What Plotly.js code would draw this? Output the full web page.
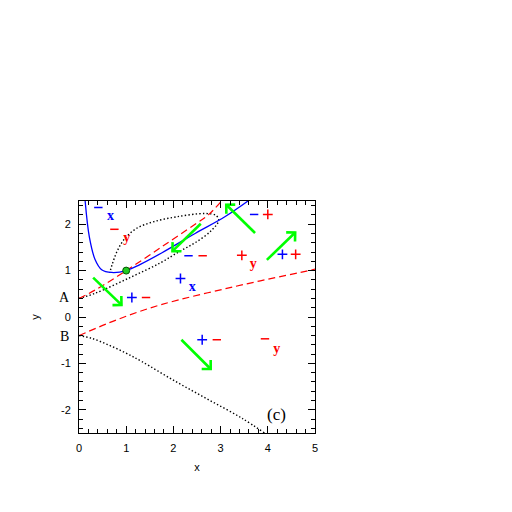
<!DOCTYPE html>
<html>
<head>
<meta charset="utf-8">
<script src="https://cdn.plot.ly/plotly-3.0.1.min.js"></script>
<style>html,body{margin:0;padding:0;background:#fff;}#plot{width:512px;height:512px;}</style>
</head>
<body>
<div id="plot"></div>
<script>
// ---- data ----
const blueX = [0.13, 0.22, 0.34, 0.48, 0.69, 1.0, 1.29, 1.75, 2.46, 3.09, 3.58];
const blueY = [2.5, 1.72, 1.24, 1.02, 0.96, 1.0, 1.13, 1.38, 1.8, 2.16, 2.5];

const redAX = [0, 0.34, 1.0, 1.75, 2.46, 2.74, 3.02];
const redAY = [0.4, 0.58, 1.0, 1.51, 2.0, 2.2, 2.5];

const redBX = [0, 0.8, 1.72, 3.27, 4.82, 5.0];
const redBY = [-0.4, -0.06, 0.26, 0.65, 0.99, 1.03];

const loopX = [0, 0.34, 1.08, 1.73, 2.14, 2.46, 2.80, 2.96, 2.90, 2.67, 2.07, 1.57, 1.22, 0.97, 0.80, 0.70, 0.65];
const loopY = [0.4, 0.51, 0.85, 1.17, 1.42, 1.60, 1.86, 2.08, 2.19, 2.23, 2.16, 2.05, 1.91, 1.69, 1.40, 1.12, 0.95];

const lowDotX = [0, 0.27, 0.62, 1.0, 1.33, 2.03, 2.74, 3.45, 3.93];
const lowDotY = [-0.4, -0.46, -0.6, -0.78, -0.96, -1.38, -1.78, -2.18, -2.5];

const arrowX0 = [0.30, 2.58, 3.73, 3.98, 2.17];
const arrowY0 = [0.85, 2.01, 1.81, 1.23, -0.49];
const arrowX1 = [0.90, 1.98, 3.12, 4.58, 2.79];
const arrowY1 = [0.26, 1.42, 2.42, 1.82, -1.12];

const dotX = [1.0];
const dotY = [1.0];

const bluePlusX = [1.12, 2.15, 4.31, 2.61];
const bluePlusY = [0.42, 0.83, 1.35, -0.49];
const blueMinusX = [0.41, 2.32, 3.71];
const blueMinusY = [2.36, 1.32, 2.21];
const redPlusX = [3.45, 4.59, 4.0];
const redPlusY = [1.33, 1.35, 2.21];
const redMinusX = [0.75, 1.42, 2.62, 2.92, 3.94];
const redMinusY = [1.89, 0.42, 1.32, -0.49, -0.47];

const xLabelX = [0.67, 2.40];
const xLabelY = [2.16, 0.64];
const yLabelX = [1.01, 3.69, 4.19];
const yLabelY = [1.69, 1.14, -0.69];

const pointLabels = ['A', 'B'];
const pointLabelY = [0.41, -0.41];

const panelLabel = '(c)';
const panelX = 4.19, panelY = -2.11;

const xTicks = [0, 1, 2, 3, 4, 5];
const xTickText = ['0', '1', '2', '3', '4', '5'];
const yTicks = [-2, -1, 0, 1, 2];
const yTickText = ['-2', '-1', '0', '1', '2'];

// ---- build arrow paths (shaft + open head) ----
const kx = 236 / 5, ky = 232 / 5, headLen = 9;
const ax = [], ay = [];
for (let i = 0; i < arrowX0.length; i++) {
  const dx = (arrowX1[i] - arrowX0[i]) * kx, dy = (arrowY1[i] - arrowY0[i]) * ky;
  const L = Math.hypot(dx, dy), ux = -dx / L, uy = -dy / L;
  const c = Math.cos(Math.PI / 4), s = Math.sin(Math.PI / 4);
  const h1x = (ux * c - uy * s) * headLen, h1y = (ux * s + uy * c) * headLen;
  const h2x = (ux * c + uy * s) * headLen, h2y = (-ux * s + uy * c) * headLen;
  ax.push(arrowX0[i], arrowX1[i], null, arrowX1[i] + h1x / kx, arrowX1[i], arrowX1[i] + h2x / kx, null);
  ay.push(arrowY0[i], arrowY1[i], null, arrowY1[i] + h1y / ky, arrowY1[i], arrowY1[i] + h2y / ky, null);
}

const symTrace = (x, y, sym, col, sz) => ({
  x, y, mode: 'markers', type: 'scatter', hoverinfo: 'skip', showlegend: false,
  marker: { symbol: sym, size: sz, color: col, line: { color: col, width: 1.5 } }
});
const txtTrace = (x, y, t, col) => ({
  x, y, mode: 'text', type: 'scatter', hoverinfo: 'skip', showlegend: false,
  text: x.map(() => t),
  textfont: { family: 'Liberation Serif', size: 14, color: col, weight: 'bold' }
});

const traces = [
  { x: lowDotX, y: lowDotY, mode: 'lines', line: { color: '#000', width: 1.4, dash: '1.4px,2.2px', shape: 'spline' }, showlegend: false },
  { x: loopX, y: loopY, mode: 'lines', line: { color: '#000', width: 1.4, dash: '1.4px,2.2px', shape: 'spline' }, showlegend: false },
  { x: redAX, y: redAY, mode: 'lines', line: { color: '#ff0000', width: 1.2, dash: '7px,4px', shape: 'spline' }, showlegend: false },
  { x: redBX, y: redBY, mode: 'lines', line: { color: '#ff0000', width: 1.2, dash: '7px,4px', shape: 'spline' }, showlegend: false },
  { x: blueX, y: blueY, mode: 'lines', line: { color: '#0000ff', width: 1.3, shape: 'spline' }, showlegend: false },
  { x: ax, y: ay, mode: 'lines', line: { color: '#00ff00', width: 2.6 }, showlegend: false, connectgaps: false },
  { x: dotX, y: dotY, mode: 'markers', marker: { size: 7, color: '#22cc22', line: { color: '#005500', width: 1 } }, showlegend: false },
  symTrace(bluePlusX, bluePlusY, 'cross-thin-open', '#0000ff', 7),
  symTrace(blueMinusX, blueMinusY, 'line-ew-open', '#0000ff', 6),
  symTrace(redPlusX, redPlusY, 'cross-thin-open', '#ff0000', 7),
  symTrace(redMinusX, redMinusY, 'line-ew-open', '#ff0000', 6),
  txtTrace(xLabelX, xLabelY, 'x', '#0000ff'),
  txtTrace(yLabelX, yLabelY, 'y', '#ff0000')
];

const annotations = pointLabels.map((t, i) => ({
  x: -15 / 236, y: pointLabelY[i], xref: 'paper', yref: 'y', text: t, showarrow: false,
  xanchor: 'center', yanchor: 'middle',
  font: { family: 'Liberation Serif', size: 14, color: '#000' }
}));
annotations.push({ x: panelX, y: panelY, xref: 'x', yref: 'y', text: panelLabel, showarrow: false,
  font: { family: 'Liberation Serif', size: 17, color: '#000' } });

const axisCommon = {
  showgrid: false, zeroline: false, showline: true, linecolor: '#000', linewidth: 1,
  mirror: 'allticks', ticks: 'inside', ticklen: 7, tickwidth: 1, tickcolor: '#000',
  tickfont: { family: 'Liberation Sans', size: 11, color: '#000' },
  minor: { dtick: 0.2, ticks: 'inside', ticklen: 4, tickwidth: 1, tickcolor: '#000' }
};

const layout = {
  width: 512, height: 512,
  margin: { l: 79, r: 197, t: 201, b: 79 },
  paper_bgcolor: '#fff', plot_bgcolor: '#fff',
  showlegend: false,
  xaxis: Object.assign({}, axisCommon, {
    range: [0, 5], tickvals: xTicks, ticktext: xTickText, ticklabelstandoff: 5,
    title: { text: 'x', font: { family: 'Liberation Sans', size: 11, color: '#000' }, standoff: 10 }
  }),
  yaxis: Object.assign({}, axisCommon, {
    range: [-2.5, 2.5], tickvals: yTicks, ticktext: yTickText, ticklabelstandoff: 5,
    title: { text: 'y', font: { family: 'Liberation Sans', size: 11, color: '#000' }, standoff: 19 }
  }),
  annotations
};

Plotly.newPlot('plot', traces, layout, { staticPlot: true });
</script>
</body>
</html>
